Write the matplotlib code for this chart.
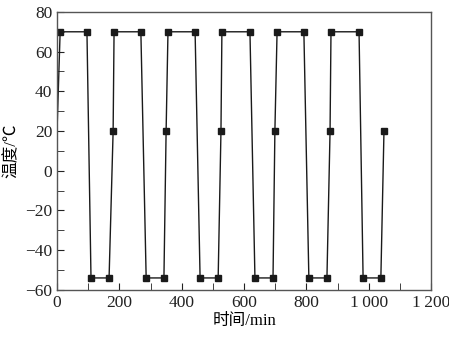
import matplotlib
matplotlib.use("Agg")
import matplotlib.pyplot as plt
from matplotlib.ticker import MultipleLocator

# time (min) and temperature (degC)
time_min = [0, 10, 96, 109, 167, 180, 183, 269, 286, 343, 350, 356, 443, 459,
            517, 526, 529, 619, 635, 693, 699, 706, 792, 808, 866, 876, 879,
            969, 982, 1039, 1049]
temp_c = [20, 70, 70, -54, -54, 20, 70, 70, -54, -54, 20, 70, 70, -54,
          -54, 20, 70, 70, -54, -54, 20, 70, 70, -54, -54, 20, 70,
          70, -54, -54, 20]

xticks = [0, 200, 400, 600, 800, 1000, 1200]
xticklabels = ["0", "200", "400", "600", "800", "1\u2009000", "1\u2009200"]
yticks = [-60, -40, -20, 0, 20, 40, 60, 80]

fonts = ["Liberation Serif", "Noto Sans CJK SC", "DejaVu Sans"]
plt.rcParams["font.family"] = fonts
plt.rcParams["axes.unicode_minus"] = True

fig = plt.figure(figsize=(4.49, 3.41), dpi=100)
ax = fig.add_axes([0.127, 0.150, 0.833, 0.815])

ax.plot(time_min, temp_c, color="#1a1a1a", lw=1.0, marker="s", ms=4.2,
        markevery=list(range(1, len(time_min))))

ax.set_xlim(0, 1200)
ax.set_ylim(-60, 80)
ax.set_xticks(xticks)
ax.set_xticklabels(xticklabels)
ax.set_yticks(yticks)
ax.xaxis.set_minor_locator(MultipleLocator(100))
ax.yaxis.set_minor_locator(MultipleLocator(10))
ax.tick_params(which="both", direction="in", labelsize=12.5, colors="#222222")
ax.tick_params(which="major", length=5)
ax.tick_params(which="minor", length=5)
for s in ax.spines.values():
    s.set_color("#555555")
    s.set_linewidth(1.0)

ax.set_xlabel("时间/min", fontsize=12, labelpad=2)
ax.set_ylabel("温度/℃", fontsize=12, labelpad=4)

fig.savefig("out.png", dpi=100)
